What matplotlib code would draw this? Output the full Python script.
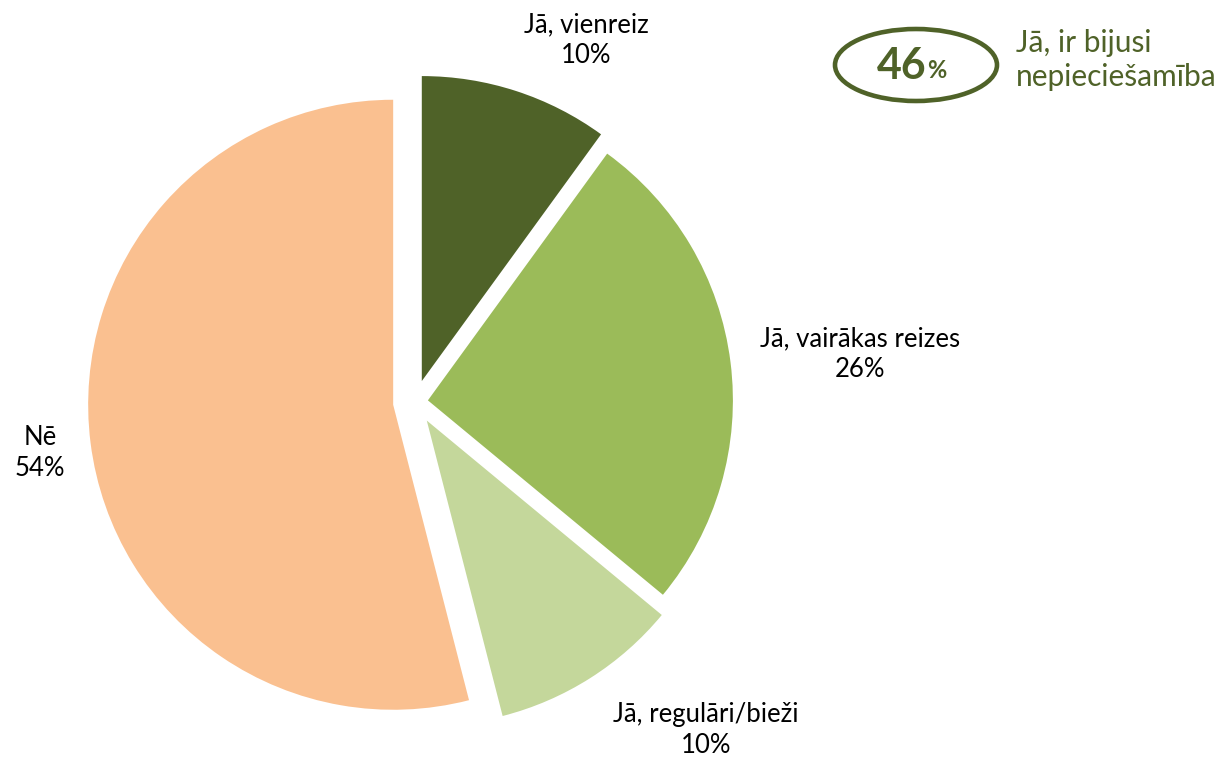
import matplotlib
matplotlib.use('Agg')
import matplotlib.pyplot as plt
from matplotlib.patches import Ellipse

plt.rcParams['font.family'] = ['Lato', 'DejaVu Sans']

# data
labels = ['Jā, vienreiz', 'Jā, vairākas reizes', 'Jā, regulāri/bieži', 'Nē']
values = [10, 26, 10, 54]
colors = ['#4F6228', '#9BBB59', '#C4D79B', '#FAC090']
total_yes = 46
summary_label = 'Jā, ir bijusi\nnepieciešamība'

W, H = 1226, 759
fig = plt.figure(figsize=(W / 100, H / 100), dpi=100)
ax = fig.add_axes([0, 0, 1, 1])

R = 305
# explode is in data units (pixels here)
ax.pie(values, colors=colors, startangle=90, counterclock=False,
       center=(415, H - 402), radius=R,
       explode=[22, 13, 22, 22],
       wedgeprops=dict(linewidth=0))

ax.set_xlim(0, W)
ax.set_ylim(0, H)
ax.set_aspect('equal')
ax.axis('off')

# slice labels (pixel positions from top-left)
label_pos = [(586, 40), (860, 354), (706, 730), (40, 453)]
for lab, v, (x, y) in zip(labels, values, label_pos):
    ax.text(x, H - y, f'{lab}\n{v}%', ha='center', va='center',
            fontsize=18.5, color='black', linespacing=1.3)

# summary bubble
ax.add_patch(Ellipse((916, H - 65), 162, 72, fill=False,
                     edgecolor='#4F6228', linewidth=3.3))
ax.text(902, H - 66, f'{total_yes}', ha='center', va='center',
        fontsize=31, fontweight='bold', color='#4F6228')
ax.text(937, H - 71, '%', ha='center', va='center',
        fontsize=17, fontweight='bold', color='#4F6228')
ax.text(1016, H - 60, summary_label, ha='left', va='center',
        fontsize=21.5, color='#4F6228', linespacing=1.25)

fig.savefig('out.png', dpi=100)
